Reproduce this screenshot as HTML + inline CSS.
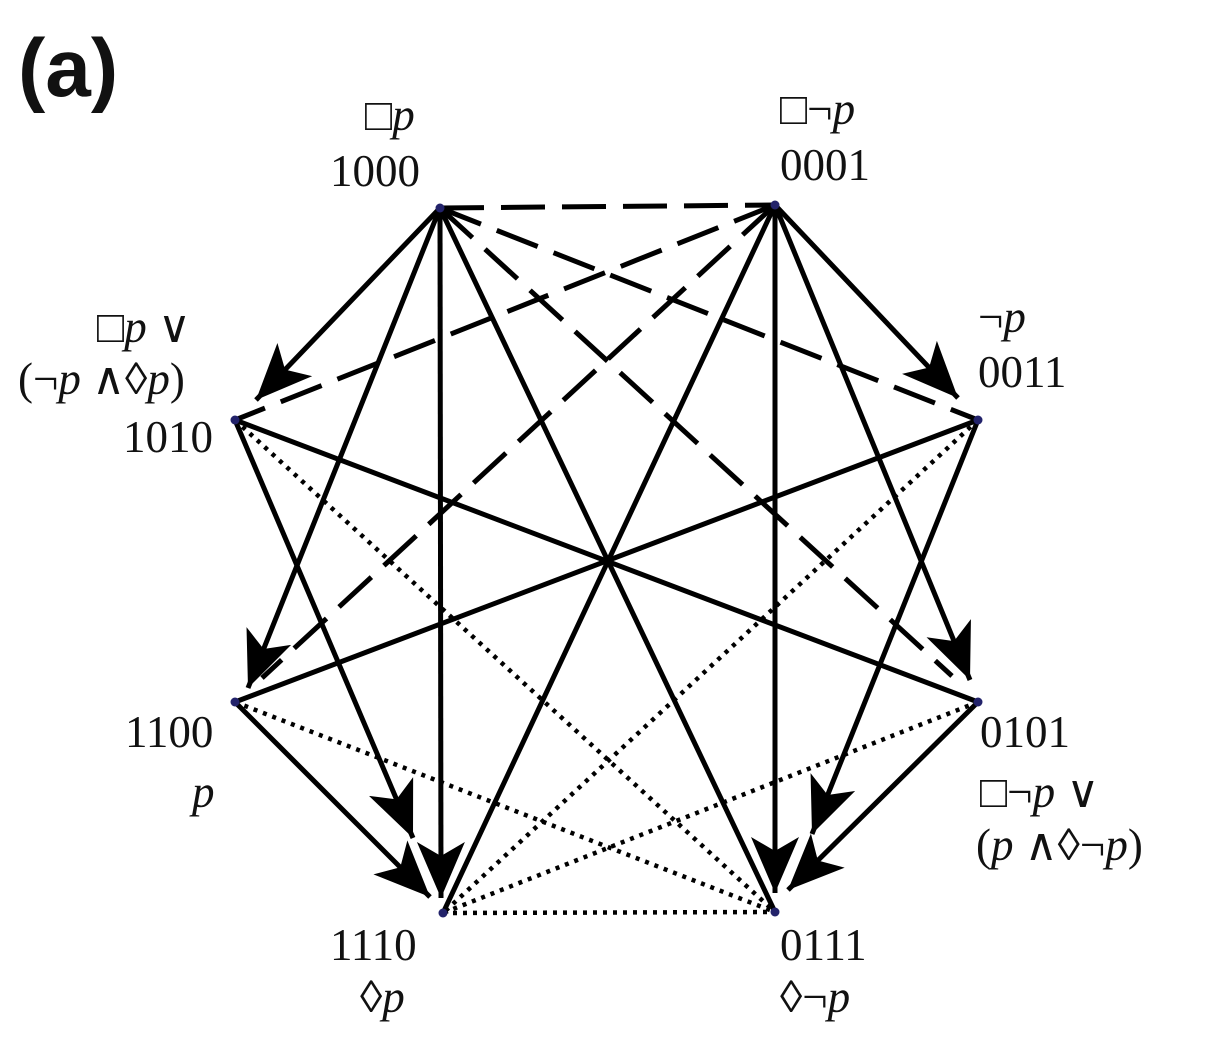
<!DOCTYPE html>
<html><head><style>
html,body{margin:0;padding:0;background:#fff;}
svg{display:block;}
text{font-family:"Liberation Serif",serif;font-size:45px;fill:#111;}
.i{font-style:italic;}
</style></head><body>
<svg width="1214" height="1056" viewBox="0 0 1214 1056" xmlns="http://www.w3.org/2000/svg">
<defs>
<marker id="ar" markerUnits="userSpaceOnUse" markerWidth="70" markerHeight="60" refX="56" refY="24" orient="auto">
<path d="M0,0 L56,24 L0,48 L14,24 Z" fill="#000"/>
</marker>
</defs>
<g stroke="#000" stroke-width="5" fill="none">
<line x1="440" y1="208" x2="256" y2="400" marker-end="url(#ar)"/>
<line x1="440" y1="208" x2="248" y2="688" marker-end="url(#ar)"/>
<line x1="440" y1="208" x2="441" y2="898" marker-end="url(#ar)"/>
<line x1="775" y1="205" x2="958" y2="398" marker-end="url(#ar)"/>
<line x1="775" y1="205" x2="970" y2="680" marker-end="url(#ar)"/>
<line x1="775" y1="205" x2="775" y2="893" marker-end="url(#ar)"/>
<line x1="235" y1="420" x2="413" y2="838" marker-end="url(#ar)"/>
<line x1="235" y1="702" x2="430" y2="897" marker-end="url(#ar)"/>
<line x1="978" y1="420" x2="812" y2="834" marker-end="url(#ar)"/>
<line x1="978" y1="702" x2="788" y2="890" marker-end="url(#ar)"/>
<line x1="440" y1="208" x2="775" y2="912"/>
<line x1="775" y1="205" x2="443" y2="913"/>
<line x1="235" y1="420" x2="978" y2="702"/>
<line x1="978" y1="420" x2="235" y2="702"/>
</g>
<g stroke="#000" stroke-width="5" fill="none" stroke-dasharray="44,17">
<line x1="440" y1="208" x2="775" y2="205"/>
<line x1="440" y1="208" x2="978" y2="420"/>
<line x1="440" y1="208" x2="952" y2="676"/>
<line x1="775" y1="205" x2="235" y2="420"/>
<line x1="775" y1="205" x2="262" y2="678"/>
</g>
<g stroke="#000" stroke-width="4.5" fill="none" stroke-dasharray="4,6">
<line x1="235" y1="420" x2="775" y2="912"/>
<line x1="235" y1="702" x2="775" y2="912"/>
<line x1="978" y1="420" x2="443" y2="913"/>
<line x1="978" y1="702" x2="443" y2="913"/>
<line x1="443" y1="913" x2="775" y2="912"/>
</g>
<g fill="#22226a">
<circle cx="440" cy="208" r="4.5"/><circle cx="775" cy="205" r="4.5"/>
<circle cx="235" cy="420" r="4.5"/><circle cx="978" cy="420" r="4.5"/>
<circle cx="235" cy="702" r="4.5"/><circle cx="978" cy="702" r="4.5"/>
<circle cx="443" cy="913" r="4.5"/><circle cx="775" cy="912" r="4.5"/>
</g>
<text x="18" y="96" style="font-family:'Liberation Sans',sans-serif;font-weight:bold;font-size:82px">(a)</text>
<text x="365" y="130">□<tspan class="i">p</tspan></text>
<text x="330" y="186">1000</text>
<text x="780" y="124">□¬<tspan class="i">p</tspan></text>
<text x="780" y="180">0001</text>
<text x="97" y="342">□<tspan class="i">p</tspan> ∨</text>
<text x="18" y="394">(¬<tspan class="i">p</tspan> ∧◊<tspan class="i">p</tspan>)</text>
<text x="123" y="452">1010</text>
<text x="978" y="332" class="i"><tspan style="font-style:normal">¬</tspan>p</text>
<text x="978" y="387">0011</text>
<text x="125" y="747">1100</text>
<text x="192" y="807" class="i">p</text>
<text x="980" y="747">0101</text>
<text x="980" y="807">□¬<tspan class="i">p</tspan> ∨</text>
<text x="976" y="860">(<tspan class="i">p</tspan> ∧◊¬<tspan class="i">p</tspan>)</text>
<text x="330" y="960">1110</text>
<text x="360" y="1012">◊<tspan class="i">p</tspan></text>
<text x="780" y="960">0111</text>
<text x="780" y="1012">◊¬<tspan class="i">p</tspan></text>
</svg>
</body></html>
